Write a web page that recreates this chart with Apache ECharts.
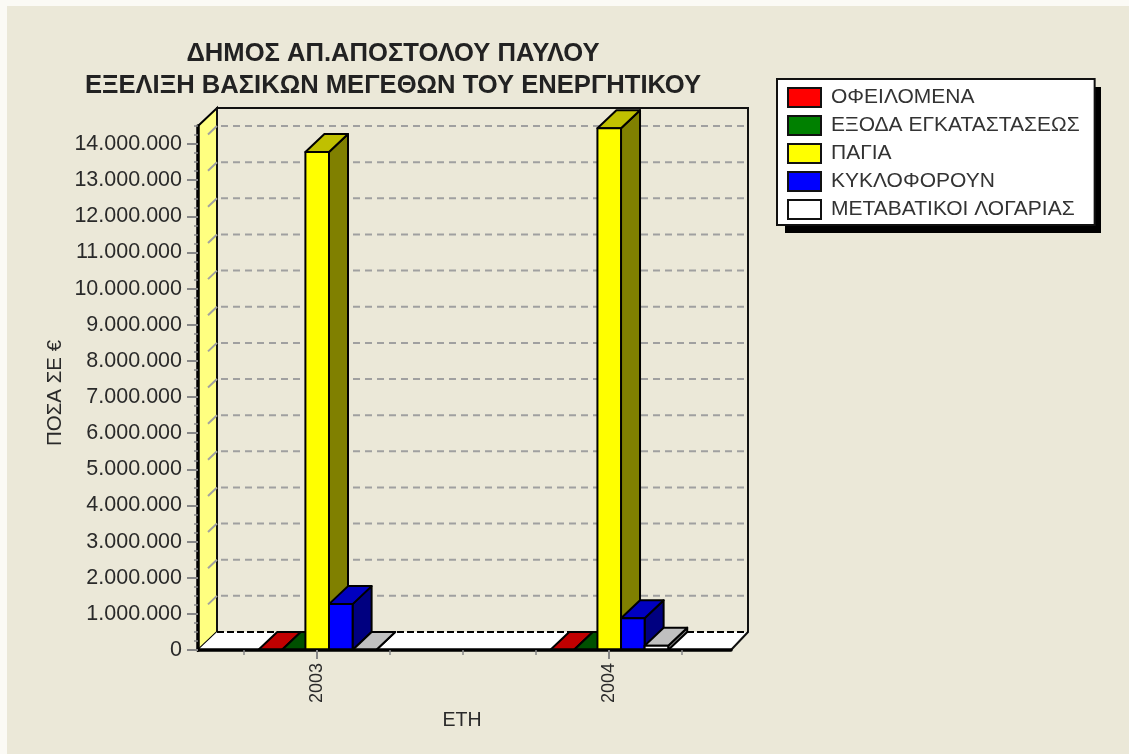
<!DOCTYPE html>
<html><head><meta charset="utf-8">
<style>html,body{margin:0;padding:0;background:#FBFAF5;}#bg{position:absolute;left:7px;top:6px;right:0;bottom:0;background:#EBE8D8;}#c{position:absolute;left:0;top:0;width:1129px;height:754px;}</style>
<script src="https://cdn.jsdelivr.net/npm/echarts@6/dist/echarts.min.js"></script>
</head><body><div id="bg"></div><div id="c"></div>
<script>
const titleLines = ['ΔΗΜΟΣ ΑΠ.ΑΠΟΣΤΟΛΟΥ ΠΑΥΛΟΥ', 'ΕΞΕΛΙΞΗ ΒΑΣΙΚΩΝ ΜΕΓΕΘΩΝ ΤΟΥ ΕΝΕΡΓΗΤΙΚΟΥ'];
const years = [2003, 2004];
const seriesNames = ['ΟΦΕΙΛΟΜΕΝΑ', 'ΕΞΟΔΑ ΕΓΚΑΤΑΣΤΑΣΕΩΣ', 'ΠΑΓΙΑ', 'ΚΥΚΛΟΦΟΡΟΥΝ', 'ΜΕΤΑΒΑΤΙΚΟΙ ΛΟΓΑΡΙΑΣ'];
const ofeilomena = [0, 0];
const exoda = [0, 0];
const pagia = [13780000, 14440000];
const kykloforoun = [1270000, 880000];
const metavatikoi = [0, 120000];
const seriesValues = [ofeilomena, exoda, pagia, kykloforoun, metavatikoi];
const frontColors = ['#FF0000', '#008000', '#FFFF00', '#0000FF', '#FFFFFF'];
const topColors = ['#C00000', '#005000', '#C0C000', '#0000C0', '#C0C0C0'];
const sideColors = ['#800000', '#004000', '#808000', '#000080', '#808080'];
const yTickValues = [0,1,2,3,4,5,6,7,8,9,10,11,12,13,14].map(m => m * 1000000);
const xMinorTicks = [2002.75, 2003, 2003.25, 2003.5, 2003.75, 2004, 2004.25];

const FONT = '"Liberation Sans", Arial, sans-serif';
const DX = 19, DY = 18;           // 3D depth in pixels
const BAR_W = 0.0808;             // bar width in years
const X_MIN = 2002.5918, X_MAX = 2004.417, Y_MAX = 14500000;
const fmt = v => String(v).replace(/\B(?=(\d{3})+$)/g, '.');

function chrome(params, api) {
  const p0 = api.coord([X_MIN, 0]), p1 = api.coord([X_MAX, 0]), pt = api.coord([X_MIN, Y_MAX]);
  const L = p0[0], R = p1[0], B = p0[1], T = pt[1];
  const kids = [];
  kids.push({type:'polygon', shape:{points:[[L,B],[L,T],[L+DX,T-DY],[L+DX,B-DY]]}, style:{fill:'#FFFF80', stroke:'#000', lineWidth:2}});
  kids.push({type:'polygon', shape:{points:[[L,B],[R,B],[R+DX-2,B-DY],[L+DX,B-DY]]}, style:{fill:'#fff', stroke:null}});
  kids.push({type:'polyline', shape:{points:[[L+DX,B-DY],[L+DX,T-DY],[R+DX-2,T-DY],[R+DX-2,B-DY],[R,B]]}, style:{fill:null, stroke:'#111', lineWidth:2}});
  kids.push({type:'line', shape:{x1:L+DX,y1:B-DY,x2:R+DX-2,y2:B-DY}, style:{stroke:'#000', lineWidth:2, lineDash:[7,3]}});
  yTickValues.slice(1).forEach(v => {
    const y = api.coord([X_MIN, v])[1];
    kids.push({type:'line', shape:{x1:L+10,y1:y-9.5,x2:L+DX,y2:y-DY}, style:{stroke:'#A0A0A0', lineWidth:2}});
    kids.push({type:'line', shape:{x1:L+DX+4,y1:y-DY,x2:R+DX-2,y2:y-DY}, style:{stroke:'#A0A0A0', lineWidth:2, lineDash:[7,5]}});
  });
  return {type:'group', children:kids};
}

function bar(si) {
  return function (params, api) {
    const year = api.value(0), val = api.value(1);
    const offset = (si - 2) * BAR_W;
    const a = api.coord([year + offset - BAR_W / 2, val]);
    const b = api.coord([year + offset + BAR_W / 2, 0]);
    const x0 = a[0], x1 = b[0], yt = a[1], yb = b[1];
    const s = {stroke:'#000', lineWidth:2, lineJoin:'round'};
    return {type:'group', children:[
      {type:'polygon', shape:{points:[[x1,yt],[x1+DX,yt-DY],[x1+DX,yb-DY],[x1,yb]]}, style:{...s, fill:sideColors[si]}},
      {type:'polygon', shape:{points:[[x0,yt],[x0+DX,yt-DY],[x1+DX,yt-DY],[x1,yt]]}, style:{...s, fill:topColors[si]}},
      {type:'rect', shape:{x:x0,y:yt,width:x1-x0,height:yb-yt}, style:{...s, fill:frontColors[si]}}
    ]};
  };
}

const labelStyle = {fontFamily:FONT, fontSize:21.5, color:'#2a2a2a'};
const option = {
  animation:false,
  backgroundColor:'transparent',
  graphic:[{type:'rect', z:3, shape:{x:785,y:87,width:316,height:146}, style:{fill:'#000'}}],
  title:{text:titleLines.join('\n'), left:388, top:33, textAlign:'center',
    textStyle:{fontFamily:FONT, fontSize:25.6, fontWeight:'bold', color:'#222', lineHeight:32}},
  legend:{orient:'vertical', left:777, top:79, padding:[8,15,5,10], itemGap:7, z:5,
    data:seriesNames, itemWidth:33, itemHeight:19, icon:'rect', selectedMode:false,
    backgroundColor:'#fff', borderColor:'#111', borderWidth:2,
    itemStyle:{borderColor:'#111', borderWidth:2},
    textStyle:{fontFamily:FONT, fontSize:21, color:'#333', lineHeight:19, padding:[0,0,0,5]}},
  grid:{left:198, right:398, top:126, bottom:104, containLabel:false},
  xAxis:[
    {type:'value', min:X_MIN, max:X_MAX, z:6, splitLine:{show:false},
     name:'ΕΤΗ', nameLocation:'middle', nameGap:58, nameTextStyle:{...labelStyle, fontSize:19.5, padding:[0,5,0,0]},
     axisLine:{show:true, onZero:false, lineStyle:{color:'#000', width:3.5}},
     axisTick:{show:true, customValues:years, length:9, lineStyle:{color:'#888', width:2}},
     axisLabel:{customValues:years, rotate:90, formatter:v=>String(v), margin:13, ...labelStyle, fontSize:18}},
    {type:'value', min:X_MIN, max:X_MAX, z:6, splitLine:{show:false}, position:'bottom',
     axisLine:{show:false}, axisLabel:{show:false},
     axisTick:{show:true, customValues:xMinorTicks, length:5, lineStyle:{color:'#888', width:1.5}}}
  ],
  yAxis:[
    {type:'value', min:0, max:Y_MAX, z:6, splitLine:{show:false},
     name:'ΠΟΣΑ ΣΕ €', nameLocation:'middle', nameGap:132, nameRotate:90, nameTextStyle:{...labelStyle, fontSize:20.5, padding:[0,10,0,0]},
     axisLine:{show:true, lineStyle:{color:'#000', width:3.5}},
     axisTick:{show:true, customValues:yTickValues, length:11, lineStyle:{color:'#888', width:2}},
     axisLabel:{customValues:yTickValues, formatter:v=>fmt(v), margin:16, ...labelStyle}},
    {type:'value', min:0, max:Y_MAX, interval:250000, z:6, position:'left', splitLine:{show:false},
     axisLine:{show:false}, axisLabel:{show:false},
     axisTick:{show:true, length:4, lineStyle:{color:'#888', width:1.5}}}
  ],
  series:[
    {type:'custom', name:'_chrome', coordinateSystem:'cartesian2d', z:1, silent:true, clip:false,
     data:[[2003,0]], renderItem:chrome},
    ...seriesNames.map((name,si)=>({
      type:'custom', name, coordinateSystem:'cartesian2d', z:2, clip:false, silent:true,
      itemStyle:{color:frontColors[si]},
      data:years.map((y,i)=>[y, seriesValues[si][i]]),
      encode:{x:0,y:1},
      renderItem:bar(si)
    }))
  ]
};
echarts.init(document.getElementById('c')).setOption(option);
</script></body></html>
